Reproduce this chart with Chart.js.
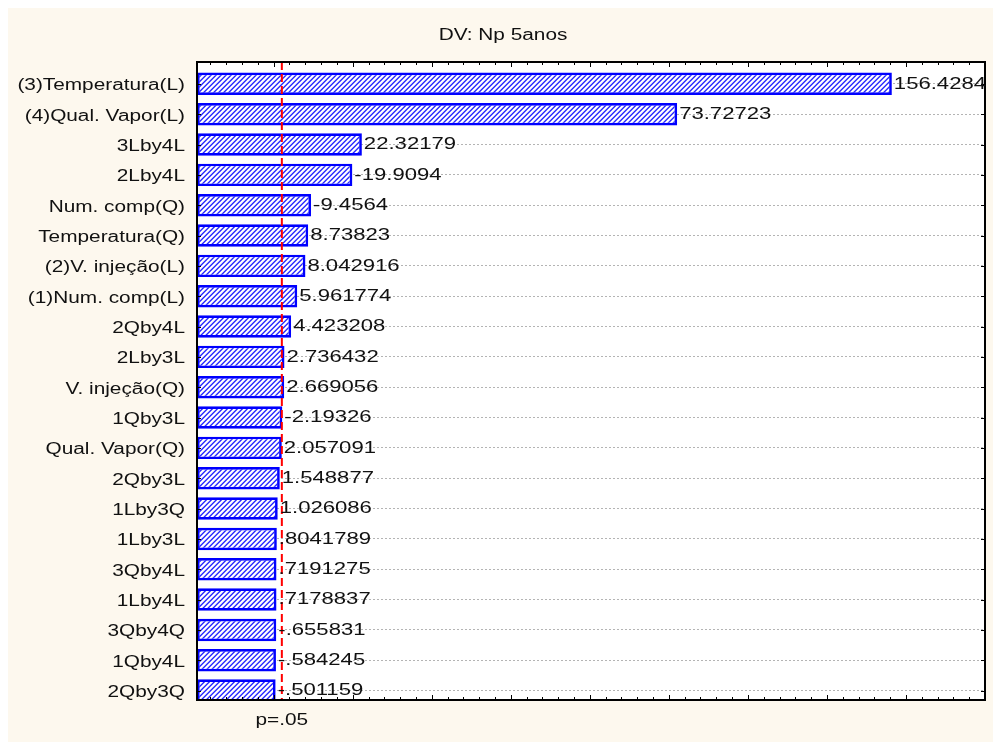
<!DOCTYPE html>
<html>
<head>
<meta charset="utf-8">
<script src="https://cdn.jsdelivr.net/npm/chart.js@4.4.1/dist/chart.umd.min.js"></script>
<style>
  body { margin: 0; background: #ffffff; }
  canvas { display: block; }
</style>
</head>
<body>
<canvas id="paretoChart" width="993" height="742"></canvas>
<script>
// Nomes dos efeitos (de cima para baixo)
var categories = ['(3)Temperatura(L)', '(4)Qual. Vapor(L)', '3Lby4L', '2Lby4L', 'Num. comp(Q)',
    'Temperatura(Q)', '(2)V. injeção(L)', '(1)Num. comp(L)', '2Qby4L', '2Lby3L', 'V. injeção(Q)',
    '1Qby3L', 'Qual. Vapor(Q)', '2Qby3L', '1Lby3Q', '1Lby3L', '3Qby4L', '1Lby4L', '3Qby4Q',
    '1Qby4L', '2Qby3Q'];

// Textos impressos ao lado das barras
var valueLabels = ['156.4284', '73.72723', '22.32179', '-19.9094', '-9.4564', '8.73823', '8.042916',
    '5.961774', '4.423208', '2.736432', '2.669056', '-2.19326', '2.057091', '1.548877', '1.026086',
    '.8041789', '.7191275', '.7178837', '-.655831', '-.584245', '-.501159'];

// Comprimento das barras (a 2a barra e mais longa que o seu texto)
var barValues = [156.43, 102.1, 22.32, 19.91, 9.46, 8.74, 8.04, 5.96, 4.42, 2.74, 2.67,
    2.19, 2.06, 1.55, 1.03, 0.80, 0.72, 0.72, 0.66, 0.58, 0.50];

var pCritical = 2.069;
var pLabel = 'p=.05';
var chartTitle = 'DV: Np 5anos';

var xMin = -19.4, xMax = 180;
var SX = 1.3; // texto esticado na horizontal como no original

// Padrao hachurado ///
function makeHatch() {
    var c = document.createElement('canvas');
    c.width = 5; c.height = 5;
    var g = c.getContext('2d');
    g.fillStyle = '#ffffff';
    g.fillRect(0, 0, 5, 5);
    for (var y = 0; y < 5; y++) {
        for (var x = 0; x < 5; x++) {
            var k = (x + y) % 5;
            if (k === 0) { g.fillStyle = '#2b2bff'; g.fillRect(x, y, 1, 1); }
            else if (k === 1) { g.fillStyle = '#6c6cff'; g.fillRect(x, y, 1, 1); }
            else if (k === 4) { g.fillStyle = '#c4c4ff'; g.fillRect(x, y, 1, 1); }
        }
    }
    return g.createPattern(c, 'repeat');
}

function stretchText(ctx, txt, x, y, align, font, color) {
    ctx.save();
    ctx.font = font;
    ctx.fillStyle = color;
    ctx.textAlign = align;
    ctx.textBaseline = 'middle';
    ctx.translate(x, y);
    ctx.scale(SX, 1);
    ctx.fillText(txt, 0, 0);
    ctx.restore();
}

var decorPlugin = {
    id: 'decor',
    beforeDraw: function(chart) {
        var ctx = chart.ctx, a = chart.chartArea;
        ctx.save();
        ctx.fillStyle = '#ffffff';
        ctx.fillRect(0, 0, chart.width, chart.height);
        ctx.fillStyle = '#fdf8ee';
        ctx.fillRect(8, 8, chart.width - 8, chart.height - 8);
        ctx.fillStyle = '#ffffff';
        ctx.fillRect(a.left, a.top, a.right - a.left, a.bottom - a.top);
        ctx.restore();
    },
    afterDatasetsDraw: function(chart) {
        var ctx = chart.ctx, a = chart.chartArea;
        var xs = chart.scales.x, ys = chart.scales.y;
        ctx.save();

        // linha p=.05
        var px = xs.getPixelForValue(pCritical);
        ctx.strokeStyle = '#ff0000';
        ctx.lineWidth = 2;
        ctx.setLineDash([8, 4]);
        ctx.beginPath();
        ctx.moveTo(px, a.top);
        ctx.lineTo(px, a.bottom);
        ctx.stroke();
        ctx.setLineDash([]);

        // moldura
        ctx.strokeStyle = '#000000';
        ctx.lineWidth = 2;
        ctx.strokeRect(a.left, a.top, a.right - a.left, a.bottom - a.top);

        // marcas em cima e em baixo
        ctx.lineWidth = 1;
        ctx.beginPath();
        for (var v = Math.ceil(xMin / 4) * 4; v <= xMax; v += 4) {
            var x = Math.round(xs.getPixelForValue(v)) + 0.5;
            var len = (v % 20 === 0) ? 5 : 3;
            ctx.moveTo(x, a.top); ctx.lineTo(x, a.top + len);
            ctx.moveTo(x, a.bottom); ctx.lineTo(x, a.bottom - len);
        }
        // marcas nos lados
        ys.ticks.forEach(function(t) {
            var y = Math.round(ys.getPixelForValue(t.value)) + 0.5;
            ctx.moveTo(a.left, y); ctx.lineTo(a.left + 4, y);
            ctx.moveTo(a.right, y); ctx.lineTo(a.right - 4, y);
        });
        ctx.stroke();

        // rotulos das categorias
        ys.ticks.forEach(function(t) {
            var y = ys.getPixelForValue(t.value);
            stretchText(ctx, categories[t.value], a.left - 12, y + 2, 'right', '16px "Liberation Sans", Arial, sans-serif', '#111111');
        });

        // valores
        barValues.forEach(function(val, i) {
            var x = xs.getPixelForValue(val);
            var y = ys.getPixelForValue(i);
            stretchText(ctx, valueLabels[i], x + 2, y, 'left', '17px "Liberation Sans", Arial, sans-serif', '#111111');
        });

        // titulo e p=.05
        stretchText(ctx, chartTitle, 503, 36, 'center', '16px "Liberation Sans", Arial, sans-serif', '#111111');
        stretchText(ctx, pLabel, px, 721, 'center', '16px "Liberation Sans", Arial, sans-serif', '#111111');

        ctx.restore();
    }
};

var ctx = document.getElementById('paretoChart').getContext('2d');
var myChart = new Chart(ctx, {
    type: 'bar',
    data: {
        datasets: [{
            data: barValues.map(function(v, i) { return { x: v, y: i }; }),
            base: xMin,
            backgroundColor: makeHatch(),
            borderColor: '#0000ff',
            borderWidth: 2.7,
            borderSkipped: false,
            barPercentage: 0.74,
            categoryPercentage: 1
        }]
    },
    options: {
        indexAxis: 'y',
        responsive: false,
        animation: false,
        layout: { padding: { left: 0, top: 62, right: 8, bottom: 42 } },
        plugins: {
            legend: { display: false },
            tooltip: { enabled: false }
        },
        scales: {
            x: {
                type: 'linear',
                min: xMin,
                max: xMax,
                display: false
            },
            y: {
                type: 'linear',
                reverse: true,
                offset: false,
                min: -0.72,
                max: 20.31,
                afterBuildTicks: function(scale) {
                    scale.ticks = categories.map(function(c, i) { return { value: i }; });
                },
                afterFit: function(scale) { scale.width = 197; },
                ticks: { display: false },
                grid: { color: '#b4b4b4', lineWidth: 1, drawTicks: false, offset: false },
                border: { display: false, dash: [2, 2] }
            }
        }
    },
    plugins: [decorPlugin]
});
</script>
</body>
</html>
